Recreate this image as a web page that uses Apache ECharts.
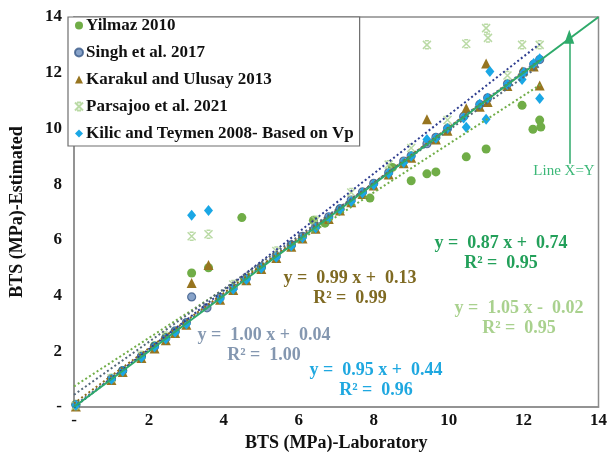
<!DOCTYPE html>
<html>
<head>
<meta charset="utf-8">
<script src="https://cdn.jsdelivr.net/npm/echarts@6/dist/echarts.min.js"></script>
<style>
  html, body { margin: 0; padding: 0; background: #fff; }
  #chart { width: 610px; height: 464px; }
</style>
</head>
<body>
<div id="chart"></div>
<script>
// BTS estimated vs laboratory, five published correlations plus the X=Y reference.
const seriesNames = [
  'Yilmaz 2010',
  'Singh et al. 2017',
  'Karakul and Ulusay 2013',
  'Parsajoo et al. 2021',
  'Kilic and Teymen 2008- Based on Vp',
];

// [laboratory, estimated] pairs
const yilmaz = [
  [0.05, 0.1], [1.0, 1.0], [1.3, 1.3], [1.8, 1.8], [2.15, 2.2], [2.45, 2.5], [2.7, 2.7],
  [3.14, 4.81], [3.59, 5.0], [4.48, 6.8], [5.0, 5.0], [5.8, 5.8], [6.39, 6.7], [6.7, 6.6],
  [7.1, 7.1], [7.9, 7.5], [8.5, 8.6], [9.0, 8.12], [9.42, 8.37], [9.66, 8.44], [10.47, 8.98],
  [11.0, 9.26], [11.96, 10.83], [12.25, 9.97], [12.43, 10.3], [12.46, 10.05],
];
const singh = [
  [0.05, 0.08], [1.0, 1.02], [1.3, 1.31], [1.8, 1.82], [2.15, 2.17], [2.45, 2.47], [2.7, 2.73],
  [3.0, 3.03], [3.14, 3.95], [3.55, 3.56], [3.9, 3.93], [4.25, 4.28], [4.6, 4.62], [5.0, 5.03],
  [5.4, 5.42], [5.8, 5.82], [6.1, 6.13], [6.45, 6.47], [6.8, 6.83], [7.1, 7.12], [7.4, 7.43],
  [7.7, 7.72], [8.0, 8.03], [8.4, 8.42], [8.8, 8.83], [9.0, 9.02], [9.42, 9.45], [9.66, 9.68],
  [9.97, 10.0], [10.4, 10.43], [10.83, 10.86], [11.04, 11.1], [11.57, 11.6], [12.0, 12.03],
  [12.27, 12.3], [12.43, 12.47],
];
const karakul = [
  [0.05, 0.02], [1.0, 0.97], [1.3, 1.26], [1.8, 1.76], [2.15, 2.1], [2.45, 2.4], [2.7, 2.66],
  [3.0, 2.95], [3.14, 4.45], [3.59, 5.1], [3.9, 3.85], [4.25, 4.2], [4.6, 4.55], [5.0, 4.95],
  [5.4, 5.35], [5.8, 5.75], [6.1, 6.05], [6.45, 6.4], [6.8, 6.75], [7.1, 7.05], [7.4, 7.35],
  [7.7, 7.65], [8.0, 7.95], [8.4, 8.35], [8.8, 8.75], [9.0, 8.95], [9.42, 10.33], [9.66, 9.6],
  [9.97, 9.92], [10.47, 10.72], [10.83, 10.78], [11.0, 12.33], [11.04, 10.95], [11.57, 11.52],
  [11.96, 12.04], [12.27, 12.22], [12.43, 11.54],
];
const parsajoo = [
  [0.05, 0.05], [1.0, 1.03], [1.8, 1.86], [2.45, 2.55], [3.14, 6.13], [3.59, 6.2], [4.25, 4.4],
  [5.4, 5.6], [6.45, 6.7], [7.4, 7.7], [8.4, 8.7], [9.0, 9.3], [9.42, 13.0], [9.97, 10.3],
  [10.47, 13.04], [11.0, 13.6], [11.05, 13.25], [11.57, 11.9], [11.96, 13.0], [12.43, 13.0],
];
const kilic = [
  [0.05, 0.06], [1.0, 1.0], [1.3, 1.28], [1.8, 1.78], [2.15, 2.15], [2.45, 2.44], [2.7, 2.68],
  [3.0, 2.98], [3.14, 6.88], [3.59, 7.05], [3.9, 3.88], [4.25, 4.23], [4.6, 4.58], [5.0, 4.98],
  [5.4, 5.38], [5.8, 5.78], [6.1, 6.08], [6.45, 6.43], [6.8, 6.78], [7.1, 7.08], [7.4, 7.38],
  [7.7, 7.68], [8.0, 7.98], [8.4, 8.38], [8.8, 8.78], [9.0, 9.0], [9.42, 9.6], [9.66, 9.65],
  [9.97, 10.0], [10.4, 10.37], [10.47, 10.04], [10.83, 10.87], [11.0, 10.33], [11.04, 11.08],
  [11.1, 12.04], [11.57, 11.58], [11.96, 11.76], [12.0, 12.0], [12.27, 12.33], [12.43, 11.07],
  [12.43, 12.5],
];
const seriesData = [yilmaz, singh, karakul, parsajoo, kilic];

// fitted trend lines as printed on the chart
const trendSlope = [0.87, 1.00, 0.99, 1.05, 0.95];
const trendIntercept = [0.74, 0.04, 0.13, -0.02, 0.44];
const trendRSquared = [0.95, 1.00, 0.99, 0.95, 0.96];
const trendRange = [[0, 12.46], [0, 12.43], [0, 12.43], [0, 12.43], [0, 12.43]];

const lineXY = [[0, 0], [14, 14]];
const arrowX = 13.22;
const arrowY = [8.73, 13.29];

const axisMin = 0;
const axisMax = 14;
const axisStep = 2;

const FONT = '"Liberation Serif", "Times New Roman", serif';
const markerColors = ['#70ad47', '#6a8cbb', '#977520', '#a9d18e', '#1aa7e5'];
const trendColors = ['#70ad47', '#4a6fa5', '#8c6d1f', '#2e3d8f', '#55687a'];
const eqColors = ['#23a05a', '#8497b0', '#7f6a22', '#a9d18e', '#1fa8e0'];
const eqPos = [[501, 243], [264, 335], [350, 278], [519, 308], [376, 370]];
const starPath = 'path://M0,0L10,10M10,0L0,10M2.5,0L7.5,0M2.5,10L7.5,10';

function scatterSeries(i) {
  const base = {
    name: seriesNames[i],
    type: 'scatter',
    data: seriesData[i],
    symbolSize: 9,
    itemStyle: { color: markerColors[i], opacity: 1 },
    z: 2,
  };
  if (i === 1) {
    base.symbolSize = 8;
    base.itemStyle = { color: markerColors[i], borderColor: '#3a5a88', borderWidth: 1.2 };
  } else if (i === 2) {
    base.symbol = 'triangle';
    base.symbolSize = 10;
  } else if (i === 3) {
    base.symbol = starPath;
    base.symbolSize = 8;
    base.itemStyle = { color: 'rgba(0,0,0,0)', borderColor: markerColors[i], borderWidth: 1.5 };
  } else if (i === 4) {
    base.symbol = 'diamond';
    base.symbolSize = [9, 11];
  }
  return base;
}

function trendSeries(i) {
  const [x0, x1] = trendRange[i];
  return {
    type: 'line',
    data: [[x0, trendSlope[i] * x0 + trendIntercept[i]], [x1, trendSlope[i] * x1 + trendIntercept[i]]],
    showSymbol: false,
    symbol: 'none',
    silent: true,
    lineStyle: { color: trendColors[i], width: 2, type: [2, 2.5] },
    z: 3,
  };
}

function fmt(v) {
  return v.toFixed(2);
}

const eqGraphics = [];
seriesNames.forEach((_, i) => {
  const sign = trendIntercept[i] < 0 ? '-' : '+';
  const [cx, cy] = eqPos[i];
  eqGraphics.push({
    type: 'text', x: cx, y: cy,
    style: {
      text: `y =  ${fmt(trendSlope[i])} x ${sign}  ${fmt(Math.abs(trendIntercept[i]))}`,
      font: `bold 18px ${FONT}`, fill: eqColors[i], align: 'center', verticalAlign: 'middle',
    },
  });
  eqGraphics.push({
    type: 'text', x: cx, y: cy + 20,
    style: {
      text: `R² =  ${fmt(trendRSquared[i])}`,
      font: `bold 18px ${FONT}`, fill: eqColors[i], align: 'center', verticalAlign: 'middle',
    },
  });
});
eqGraphics.push({
  type: 'text', x: 564, y: 171,
  style: { text: 'Line X=Y', font: `15px ${FONT}`, fill: '#3cb878', align: 'center', verticalAlign: 'middle' },
});

const tickFormatter = (v) => (v === 0 ? '-' : String(v));

const axisCommon = {
  type: 'value',
  min: axisMin,
  max: axisMax,
  interval: axisStep,
  nameLocation: 'middle',
  nameTextStyle: { fontFamily: FONT, fontWeight: 'bold', fontSize: 18, color: '#111' },
  axisLine: { show: true, lineStyle: { color: '#8c8c8c', width: 1.5 } },
  axisTick: { show: false },
  splitLine: { show: false },
  axisLabel: { formatter: tickFormatter, fontFamily: FONT, fontWeight: 'bold', fontSize: 17, color: '#111' },
};

const chart = echarts.init(document.getElementById('chart'), null, { renderer: 'canvas' });
chart.setOption({
  animation: false,
  backgroundColor: '#fff',
  grid: {
    left: 68, right: 10, top: 17, bottom: 57,
    show: true, borderColor: '#8c8c8c', borderWidth: 1.5, backgroundColor: 'transparent',
  },
  xAxis: Object.assign({}, axisCommon, {
    name: 'BTS (MPa)-Laboratory',
    nameGap: 23,
    axisLabel: Object.assign({}, axisCommon.axisLabel, { margin: 5 }),
  }),
  yAxis: Object.assign({}, axisCommon, {
    name: 'BTS (MPa)-Estimated',
    nameGap: 48,
    axisLabel: Object.assign({}, axisCommon.axisLabel, { margin: 12 }),
  }),
  legend: {
    data: seriesNames,
    orient: 'vertical',
    left: 68,
    top: 17,
    padding: [0, 6, 4, 6],
    itemGap: 10,
    itemWidth: 8,
    itemHeight: 8,
    borderColor: '#6e6e6e',
    borderWidth: 1.2,
    backgroundColor: '#fff',
    textStyle: {
      fontFamily: FONT, fontWeight: 'bold', fontSize: 17, lineHeight: 17, color: '#111',
      padding: [0, 0, 0, -2],
    },
  },
  graphic: eqGraphics,
  series: [
    ...seriesNames.map((_, i) => scatterSeries(i)),
    ...seriesNames.map((_, i) => trendSeries(i)),
    {
      type: 'line',
      data: lineXY,
      showSymbol: false,
      symbol: 'none',
      silent: true,
      lineStyle: { color: '#2eaa6a', width: 2 },
      z: 4,
      markLine: {
        silent: true,
        symbol: ['none', 'triangle'],
        symbolSize: [10, 14],
        label: { show: false },
        lineStyle: { color: '#2eaa6a', width: 1.5, type: 'solid' },
        data: [[{ coord: [arrowX, arrowY[0]] }, { coord: [arrowX, arrowY[1]] }]],
      },
    },
  ],
});
</script>
</body>
</html>
